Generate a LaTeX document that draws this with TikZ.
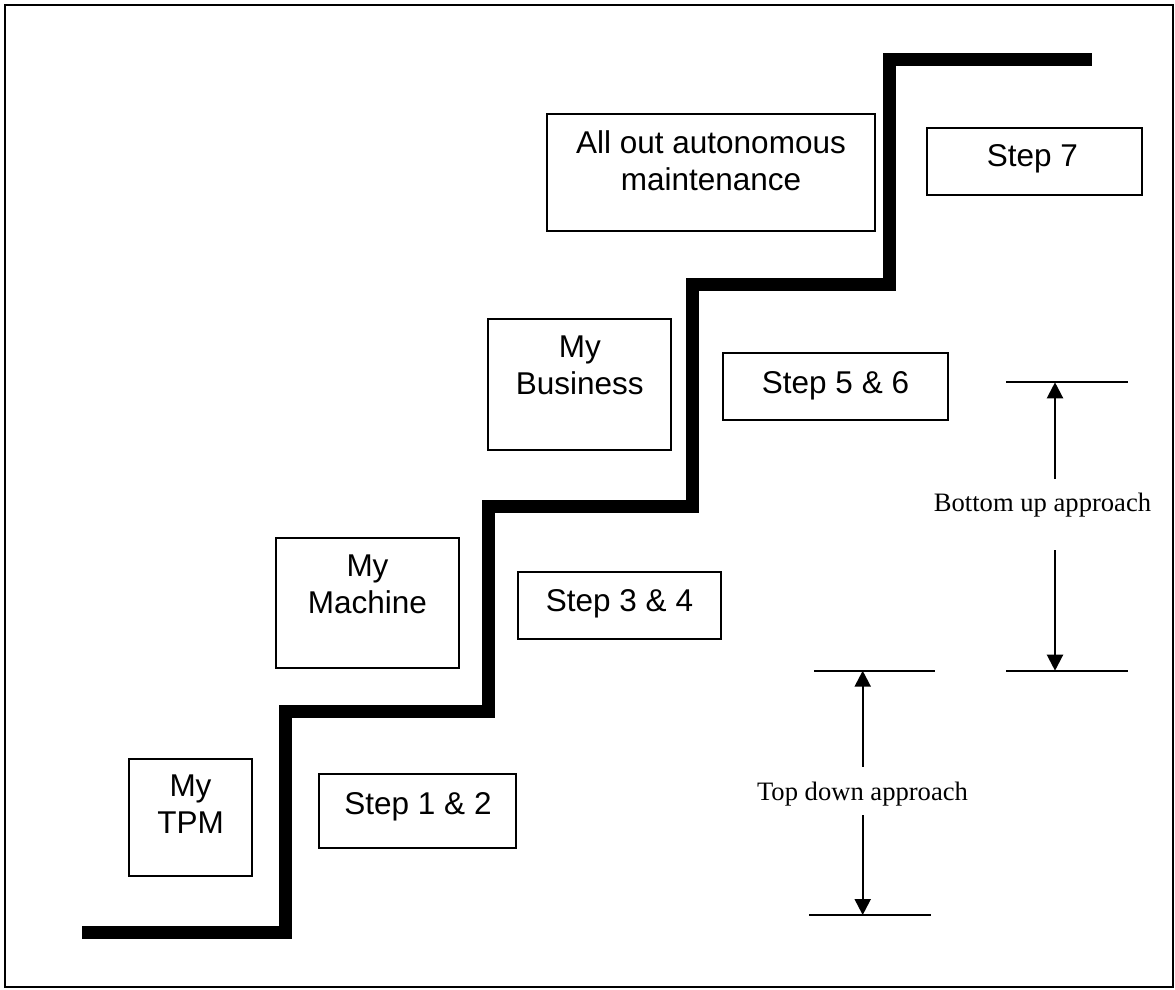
\documentclass[tikz,border=0pt]{standalone}
\usepackage{fontspec}
\setmainfont{Liberation Sans}
\newfontfamily\timesfont{Liberation Serif}
\usetikzlibrary{arrows.meta}
\begin{document}
\begin{tikzpicture}[x=1pt,y=-1pt,
  box/.style={draw, line width=2pt, inner sep=0pt},
  lbl/.style={font=\fontsize{31.5}{37}\selectfont, align=center, inner sep=0pt},
  note/.style={font=\timesfont\fontsize{26.6}{30}\selectfont, inner sep=0pt, anchor=base},
  tick/.style={line width=2pt},
  arr/.style={line width=2.2pt, -{Triangle[length=16pt,width=16pt]}},
  stair/.style={line width=13pt, line join=miter}]
\useasboundingbox (0,0) rectangle (1175,990);
\draw[line width=2pt] (5,5) rectangle (1173,987);

% staircase
\draw[stair] (82,932) -- (285,932) -- (285,711.5) -- (488,711.5) -- (488,506.5)
  -- (692,506.5) -- (692,284.5) -- (889,284.5) -- (889,59.5) -- (1092,59.5);

% boxes
\node[box, minimum width=123pt, minimum height=117pt] (tpm) at (190.5,817.5) {};
\node[lbl, anchor=north] (tpmt) at (190.5,775) {My\\TPM};
\node[box, minimum width=197pt, minimum height=74pt] (s12) at (417.8,811.3) {};
\node[lbl, anchor=base] (s12t) at (418,814) {Step 1 \& 2};

\node[box, minimum width=183pt, minimum height=130pt] (mach) at (367.5,602.8) {};
\node[lbl, anchor=north] (macht) at (367.5,555) {My\\Machine};
\node[box, minimum width=203.6pt, minimum height=67.3pt] (s34) at (619.5,605.3) {};
\node[lbl, anchor=base] (s34t) at (619.5,611) {Step 3 \& 4};

\node[box, minimum width=183pt, minimum height=130.7pt] (bus) at (579.8,384.7) {};
\node[lbl, anchor=north] (bust) at (579.8,336) {My\\Business};
\node[box, minimum width=225pt, minimum height=66.7pt] (s56) at (835.5,386.7) {};
\node[lbl, anchor=base] (s56t) at (835.5,393.3) {Step 5 \& 6};

\node[box, minimum width=328pt, minimum height=117pt] (allout) at (711,172.2) {};
\node[lbl, anchor=north] (alloutt) at (711,130.3) {All out autonomous\\maintenance};
\node[box, minimum width=215pt, minimum height=67pt] (s7) at (1034.5,161.5) {};
\node[lbl, anchor=base] (s7t) at (1032.3,166.7) {Step 7};

% bottom up approach
\coordinate (buL1) at (1006,382.3);
\coordinate (buR1) at (1128,382.3);
\coordinate (buL2) at (1006,670.7);
\coordinate (buR2) at (1128,670.7);
\coordinate (buT) at (1055,382.3);
\coordinate (buB) at (1055,670.7);
\coordinate (buA) at (1055,479);
\coordinate (buC) at (1055,550);
\draw[tick] (buL1) -- (buR1);
\draw[tick] (buL2) -- (buR2);
\draw[arr] (buA) -- (buT);
\draw[arr] (buC) -- (buB);
\node[note] (bu) at (1042.5,511.7) {Bottom up approach};

% top down approach
\coordinate (tdL1) at (814,670.7);
\coordinate (tdR1) at (935,670.7);
\coordinate (tdL2) at (809,915);
\coordinate (tdR2) at (931,915);
\coordinate (tdT) at (862.7,670.7);
\coordinate (tdB) at (862.7,915);
\coordinate (tdA) at (862.7,766.7);
\coordinate (tdC) at (862.7,815);
\draw[tick] (tdL1) -- (tdR1);
\draw[tick] (tdL2) -- (tdR2);
\draw[arr] (tdA) -- (tdT);
\draw[arr] (tdC) -- (tdB);
\node[note] (td) at (862.5,800) {Top down approach};
\end{tikzpicture}
\end{document}
